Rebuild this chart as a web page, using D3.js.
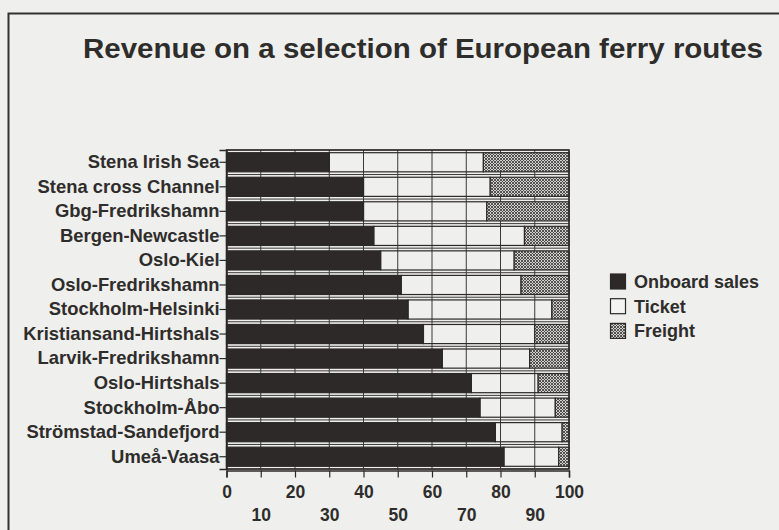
<!DOCTYPE html>
<html>
<head>
<meta charset="utf-8">
<script src="https://cdn.jsdelivr.net/npm/d3@7"></script>
<style>
  html, body { margin: 0; padding: 0; background: #efefed; }
  svg { display: block; }
  text { font-family: "Liberation Sans", Arial, sans-serif; font-weight: bold; fill: #2e2d2c; }
</style>
</head>
<body>
<svg id="chart" width="779" height="530"></svg>
<script>
// Routes, top to bottom
const routes = [
  "Stena Irish Sea", "Stena cross Channel", "Gbg-Fredrikshamn", "Bergen-Newcastle",
  "Oslo-Kiel", "Oslo-Fredrikshamn", "Stockholm-Helsinki", "Kristiansand-Hirtshals",
  "Larvik-Fredrikshamn", "Oslo-Hirtshals", "Stockholm-Åbo", "Strömstad-Sandefjord", "Umeå-Vaasa"
];
// Share of revenue, percent
const onboardSales = [30, 40, 40, 43, 45, 51, 53, 57.5, 63, 71.5, 74, 78.5, 81];
const ticket       = [45, 37, 36, 44, 39, 35, 42, 32.5, 25.5, 19.5, 22, 19.5, 16];
const freight      = [25, 23, 24, 13, 16, 14, 5, 10, 11.5, 9, 4, 2, 3];

const seriesKeys = ["Onboard sales", "Ticket", "Freight"];
const xTicks = [0, 10, 20, 30, 40, 50, 60, 70, 80, 90, 100];

const table = routes.map((r, i) => ({
  route: r,
  "Onboard sales": onboardSales[i],
  "Ticket": ticket[i],
  "Freight": freight[i]
}));

const svg = d3.select("#chart");

// hatched fill for freight
const defs = svg.append("defs");
const pat = defs.append("pattern")
  .attr("id", "hatch").attr("patternUnits", "userSpaceOnUse")
  .attr("width", 3).attr("height", 3);
pat.append("rect").attr("width", 3).attr("height", 3).attr("fill", "#d0d0ce");
pat.append("path").attr("d", "M0,0 L3,3 M3,0 L0,3")
  .attr("stroke", "#464544").attr("stroke-width", 0.9);

// page frame
svg.append("path")
  .attr("d", "M8.5,530 L8.5,13.5 L779,13.5")
  .attr("fill", "none").attr("stroke", "#333231").attr("stroke-width", 2);

// title
svg.append("text")
  .attr("x", 83).attr("y", 58)
  .attr("textLength", 680).attr("lengthAdjust", "spacingAndGlyphs")
  .style("font-size", "27px")
  .text("Revenue on a selection of European ferry routes");

const plot = { left: 226.5, right: 569, top: 150, bottom: 469 };

const x = d3.scaleLinear().domain([0, 100]).range([plot.left, plot.right]);
const y = d3.scaleBand().domain(routes).range([plot.top, plot.bottom]).paddingInner(0.22).paddingOuter(0.11);

const g = svg.append("g");

// vertical grid
g.selectAll("line.vgrid").data(xTicks).join("line")
  .attr("x1", d => x(d)).attr("x2", d => x(d))
  .attr("y1", plot.top).attr("y2", plot.bottom)
  .attr("stroke", "#3a3938").attr("stroke-width", 1);

// horizontal grid between categories
const hLines = d3.range(routes.length + 1).map(i => plot.top + i * (plot.bottom - plot.top) / routes.length);
g.selectAll("line.hgrid").data(hLines).join("line")
  .attr("x1", plot.left).attr("x2", plot.right)
  .attr("y1", d => d).attr("y2", d => d)
  .attr("stroke", "#3a3938").attr("stroke-width", 1);

const stack = d3.stack().keys(seriesKeys)(table);
const fills = { "Onboard sales": "#2c2928", "Ticket": "none", "Freight": "url(#hatch)" };

g.selectAll("g.series").data(stack).join("g")
  .attr("fill", d => fills[d.key])
  .selectAll("rect").data(d => d).join("rect")
  .attr("x", d => x(d[0]))
  .attr("width", d => x(d[1]) - x(d[0]))
  .attr("y", d => y(d.data.route))
  .attr("height", y.bandwidth())
  .attr("stroke", "#2c2928").attr("stroke-width", 1.2);

// plot border
g.append("rect")
  .attr("x", plot.left).attr("y", plot.top)
  .attr("width", plot.right - plot.left).attr("height", plot.bottom - plot.top)
  .attr("fill", "none").attr("stroke", "#2c2928").attr("stroke-width", 1.5);

// y axis
const yAxis = svg.append("g")
  .attr("transform", `translate(${plot.left},0)`)
  .call(d3.axisLeft(y).tickSize(7).tickPadding(0));
yAxis.select(".domain").attr("stroke", "#2c2928").attr("stroke-width", 1.5);
yAxis.selectAll(".tick line").attr("stroke", "#2c2928").attr("stroke-width", 1.2);
yAxis.selectAll(".tick text")
  .style("font-size", "18.4px").style("font-family", "'Liberation Sans', Arial, sans-serif")
  .attr("fill", "#2e2d2c");

// x axis, labels staggered on two rows
const xAxis = svg.append("g")
  .attr("transform", `translate(0,${plot.bottom + 1.5})`)
  .call(d3.axisBottom(x).tickValues(xTicks).tickSize(7).tickFormat(d3.format("d")));
xAxis.select(".domain").attr("stroke", "#2c2928").attr("stroke-width", 1.5);
xAxis.selectAll(".tick line").attr("stroke", "#2c2928").attr("stroke-width", 1.2);
xAxis.selectAll(".tick text")
  .attr("dy", null)
  .attr("y", (d, i) => (i % 2 === 0 ? 27 : 50))
  .style("font-size", "17.5px").style("font-family", "'Liberation Sans', Arial, sans-serif")
  .attr("fill", "#2e2d2c");

// legend
const legend = svg.append("g");
const legendFills = { "Onboard sales": "#2c2928", "Ticket": "#f4f4f2", "Freight": "url(#hatch)" };
seriesKeys.forEach((k, i) => {
  const cy = 281.5 + i * 24.7;
  legend.append("rect")
    .attr("x", 610.5).attr("y", cy - 7.5).attr("width", 15).attr("height", 15)
    .attr("fill", legendFills[k]).attr("stroke", "#2c2928").attr("stroke-width", 1.2);
  legend.append("text")
    .attr("x", 634).attr("y", cy + 6.5)
    .style("font-size", "18px")
    .text(k);
});
</script>
</body>
</html>
